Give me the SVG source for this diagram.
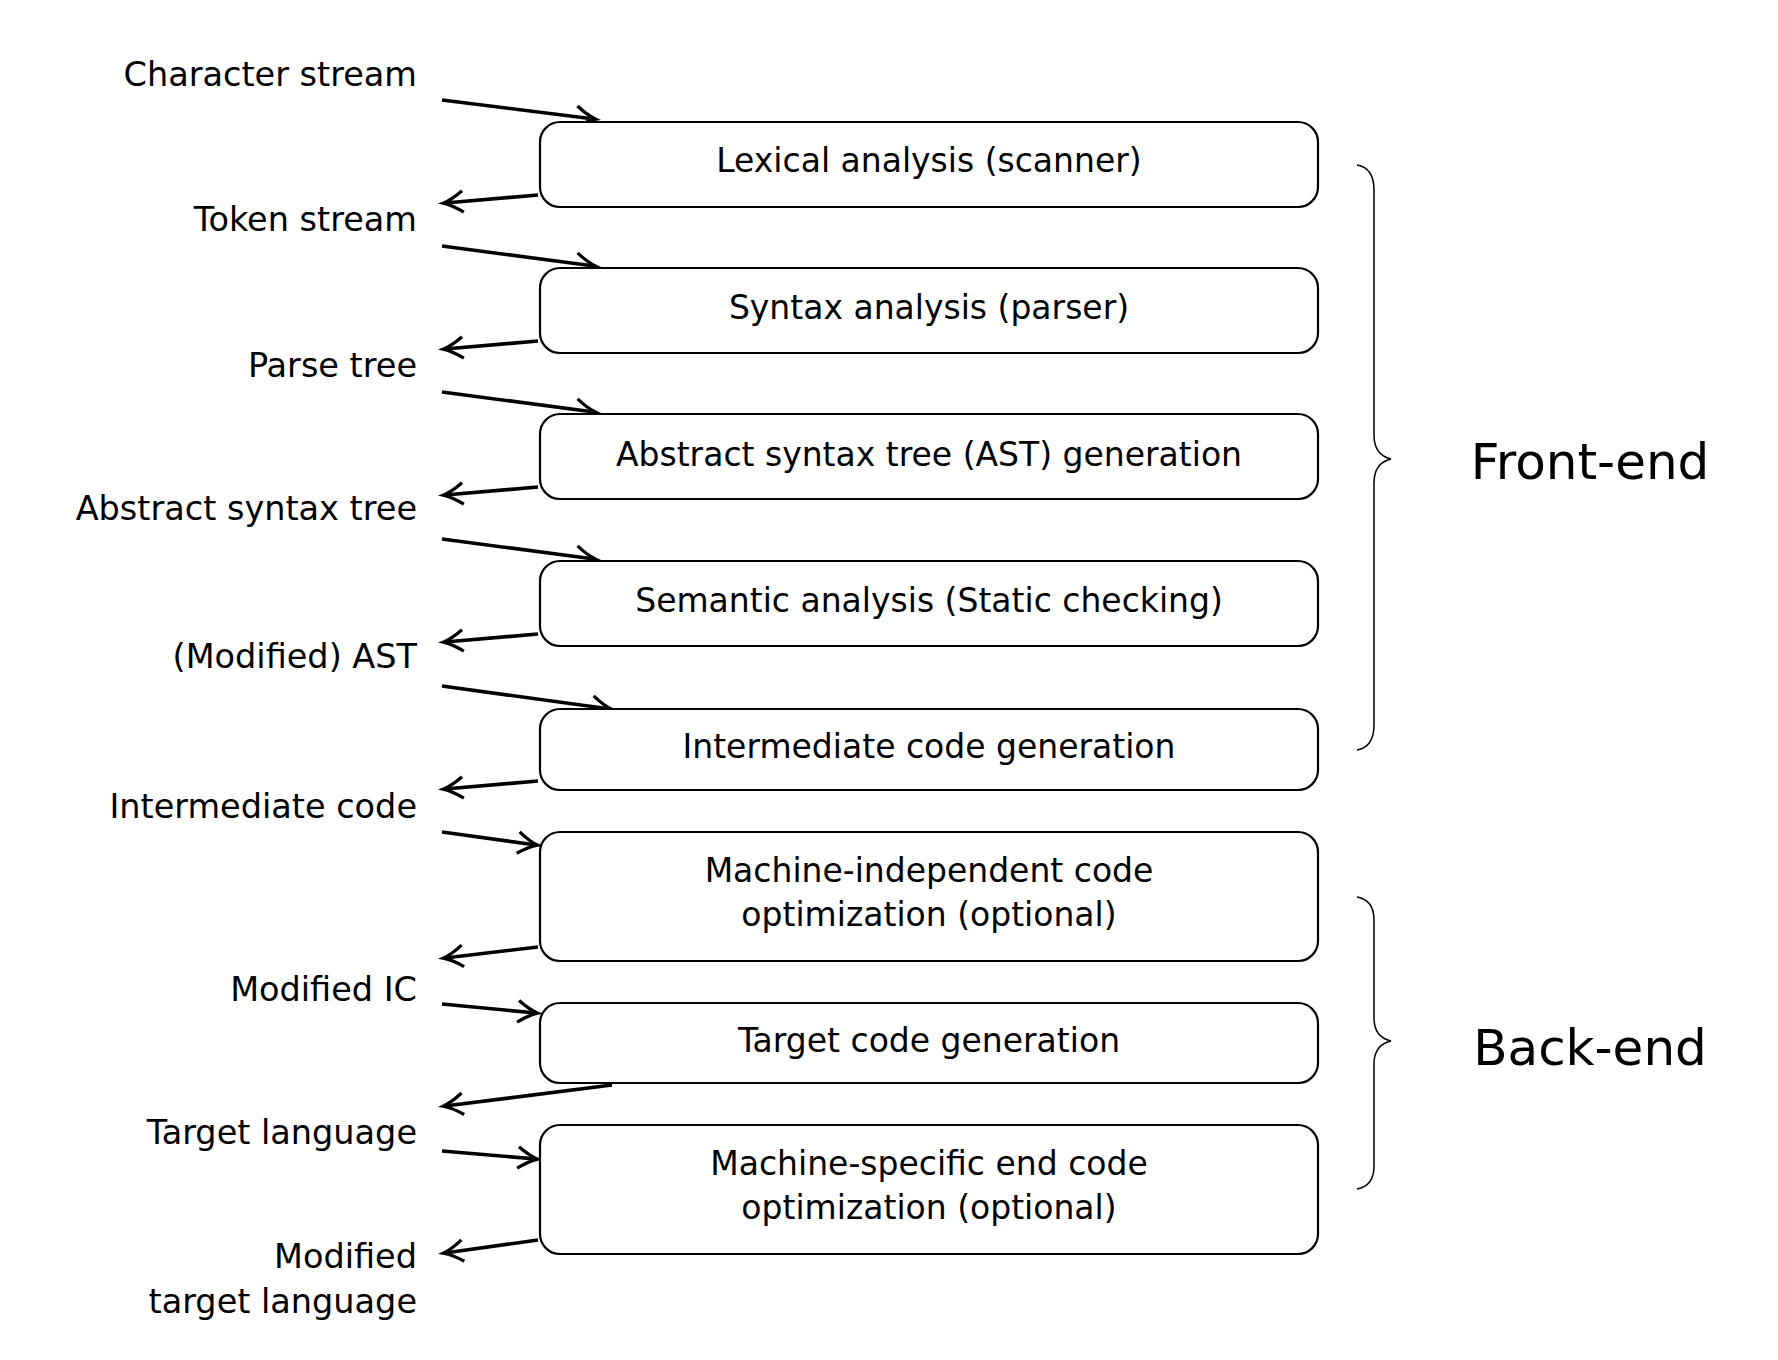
<svg xmlns="http://www.w3.org/2000/svg" width="1778" height="1360" viewBox="0 0 1778 1360">
<style>
.box{fill:#fff;stroke:#000;stroke-width:2.2}
.t{font-family:"DejaVu Sans",sans-serif;font-size:33px;text-anchor:middle;fill:#000}
.l{font-family:"DejaVu Sans",sans-serif;font-size:33.5px;text-anchor:end;fill:#000}
.big{font-family:"DejaVu Sans",sans-serif;font-size:50px;text-anchor:middle;fill:#000}
.a{stroke:#000;stroke-width:3.6;fill:none;marker-end:url(#ah)}
.br{stroke:#000;stroke-width:1.5;fill:none}
</style>
<defs>
<marker id="ah" markerWidth="8" markerHeight="8" refX="6" refY="4" orient="auto" markerUnits="strokeWidth">
<path d="M1,1 Q4,3.2 6.5,4 Q4,4.8 1,7" fill="none" stroke="#000" stroke-width="0.9"/>
</marker>
</defs>
<g id="connectors">
<line class="a" x1="442" y1="100" x2="594" y2="119"/>
<line class="a" x1="538" y1="195" x2="445" y2="203"/>
<line class="a" x1="442" y1="246" x2="594" y2="266"/>
<line class="a" x1="538" y1="341" x2="445" y2="349"/>
<line class="a" x1="442" y1="392" x2="594" y2="412"/>
<line class="a" x1="538" y1="487" x2="445" y2="495"/>
<line class="a" x1="442" y1="539" x2="594" y2="559"/>
<line class="a" x1="538" y1="634" x2="445" y2="642"/>
<line class="a" x1="442" y1="686" x2="610" y2="709"/>
<line class="a" x1="538" y1="781" x2="445" y2="789"/>
<line class="a" x1="442" y1="832" x2="536" y2="845"/>
<line class="a" x1="538" y1="947" x2="445" y2="958"/>
<line class="a" x1="442" y1="1004" x2="536" y2="1013"/>
<line class="a" x1="612" y1="1085" x2="445" y2="1106"/>
<line class="a" x1="442" y1="1151" x2="536" y2="1159"/>
<line class="a" x1="538" y1="1240" x2="445" y2="1253"/>
</g>
<g id="n1"><rect class="box" x="540" y="122" width="778" height="85" rx="20"/><text class="t" x="929" y="172">Lexical analysis (scanner)</text></g>
<g id="n2"><rect class="box" x="540" y="268" width="778" height="85" rx="20"/><text class="t" x="929" y="319">Syntax analysis (parser)</text></g>
<g id="n3"><rect class="box" x="540" y="414" width="778" height="85" rx="20"/><text class="t" x="929" y="466">Abstract syntax tree (AST) generation</text></g>
<g id="n4"><rect class="box" x="540" y="561" width="778" height="85" rx="20"/><text class="t" x="929" y="612">Semantic analysis (Static checking)</text></g>
<g id="n5"><rect class="box" x="540" y="709" width="778" height="81" rx="20"/><text class="t" x="929" y="758">Intermediate code generation</text></g>
<g id="n6"><rect class="box" x="540" y="832" width="778" height="129" rx="20"/><text class="t" x="929" y="882">Machine-independent code</text><text class="t" x="929" y="926">optimization (optional)</text></g>
<g id="n7"><rect class="box" x="540" y="1003" width="778" height="80" rx="20"/><text class="t" x="929" y="1052">Target code generation</text></g>
<g id="n8"><rect class="box" x="540" y="1125" width="778" height="129" rx="20"/><text class="t" x="929" y="1175">Machine-specific end code</text><text class="t" x="929" y="1219">optimization (optional)</text></g>
<g id="labels">
<text class="l" x="417" y="86">Character stream</text>
<text class="l" x="417" y="231">Token stream</text>
<text class="l" x="417" y="377">Parse tree</text>
<text class="l" x="417" y="520">Abstract syntax tree</text>
<text class="l" x="417" y="668">(Modified) AST</text>
<text class="l" x="417" y="818">Intermediate code</text>
<text class="l" x="417" y="1001">Modified IC</text>
<text class="l" x="417" y="1144">Target language</text>
<text class="l" x="417" y="1268">Modified</text>
<text class="l" x="417" y="1313">target language</text>
</g>
<g id="front-end">
<path class="br" d="M1357,165 Q1374,168 1374,190 L1374,435 Q1374,455 1391,459 Q1374,463 1374,483 L1374,725 Q1374,747 1357,750"/>
<text class="big" x="1590" y="479">Front-end</text>
</g>
<g id="back-end">
<path class="br" d="M1357,897 Q1374,900 1374,920 L1374,1018 Q1374,1037 1391,1041 Q1374,1045 1374,1064 L1374,1166 Q1374,1186 1357,1189"/>
<text class="big" x="1590" y="1065">Back-end</text>
</g>
</svg>
